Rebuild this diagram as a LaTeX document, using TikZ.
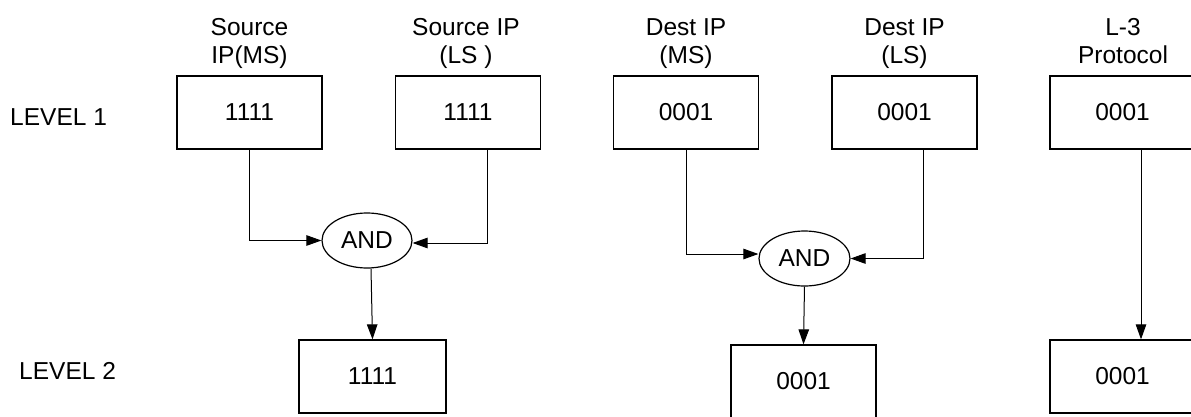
\documentclass[tikz,border=0pt]{standalone}
\usepackage{fontspec}
\setmainfont{Liberation Sans}
\usetikzlibrary{arrows.meta,shapes.geometric}
\begin{document}
\begin{tikzpicture}[x=1pt,y=-1pt,
  every node/.style={font=\fontsize{24.5}{28}\selectfont},
  fieldbox/.style={draw=black,line width=1.3pt,rectangle,minimum width=145pt,minimum height=73pt,inner sep=0pt},
  gate/.style={draw=black,line width=1.2pt,ellipse,minimum width=90pt,minimum height=55pt,inner sep=0pt},
  header/.style={align=center,anchor=south,inner sep=0pt},
  levellabel/.style={anchor=base west,inner sep=0pt},
  conn/.style={draw=black,line width=1pt,-{Triangle[length=15pt,width=10.5pt]}},
  wire/.style={draw=black,line width=1pt}
]
\clip (0,0) rectangle (1191,416);
\fill[white] (0,0) rectangle (1191,416);

% level labels
\node[levellabel] (lv1) at (10,125) {LEVEL 1};
\node[levellabel] (lv2) at (19,379) {LEVEL 2};

% level 1 boxes
\node[fieldbox] (b1) at (249.5,112.5) {1111};
\node[fieldbox] (b2) at (468,112.5) {1111};
\node[fieldbox] (b3) at (686,112.5) {0001};
\node[fieldbox] (b4) at (904.5,112.5) {0001};
\node[fieldbox] (b5) at (1122.5,112.5) {0001};

% headers
\node[header] (h1) at (249.5,72.5) {Source\\IP(MS)\strut};
\node[header] (h2) at (466,72.5) {Source IP\\(LS )\strut};
\node[header] (h3) at (686,72.5) {Dest IP\\(MS)\strut};
\node[header] (h4) at (904.5,72.5) {Dest IP\\(LS)\strut};
\node[header] (h5) at (1123,72.5) {L-3\\Protocol\strut};

% gates
\node[gate] (and1) at (367,240.5) {AND};
\node[gate,minimum width=91pt] (and2) at (804.5,258.5) {AND};

% level 2 boxes
\node[fieldbox,minimum width=147pt] (l1) at (372.5,376.5) {1111};
\node[fieldbox] (l2) at (803.5,381.5) {0001};
\node[fieldbox] (l3) at (1122.5,376.5) {0001};

% connectors
\draw[conn] (b1.south) |- (and1.west);
\draw[conn] ([xshift=19pt]b2.south) |- ([yshift=-2.5pt]and1.east);
\draw[conn] (b3.south) |- ([yshift=4.5pt]and2.west);
\draw[conn] ([xshift=18.5pt]b4.south) |- (and2.east);
\draw[conn] ([xshift=4pt]and1.south) -- (l1.north);
\draw[conn] (and2.south) -- (l2.north);
\draw[conn] ([xshift=18.5pt]b5.south) -- ([xshift=18.5pt]l3.north);
\end{tikzpicture}
\end{document}
